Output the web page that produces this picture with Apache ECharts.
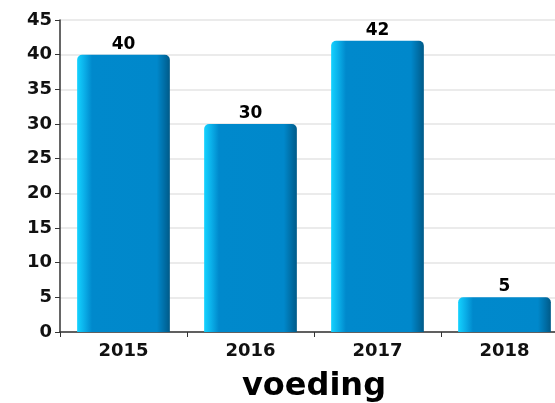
<!DOCTYPE html>
<html>
<head>
<meta charset="utf-8">
<script src="https://cdn.jsdelivr.net/npm/echarts@6/dist/echarts.min.js"></script>
<style>
  html, body { margin: 0; padding: 0; background: #fff; overflow: hidden; }
  #chart { width: 570px; height: 403px; }
</style>
</head>
<body>
<div id="chart"></div>
<script>
  var years = ['2015', '2016', '2017', '2018'];
  var values = [40, 30, 42, 5];
  var axisTitle = 'voeding';

  var chart = echarts.init(document.getElementById('chart'));

  // fake 3d look: bright left edge, dark right edge
  var barColor = new echarts.graphic.LinearGradient(0, 0, 1, 0, [
    { offset: 0, color: '#14d2ff' },
    { offset: 0.08, color: '#0aaee8' },
    { offset: 0.16, color: '#0089cc' },
    { offset: 0.86, color: '#0088cb' },
    { offset: 0.94, color: '#006ea6' },
    { offset: 1, color: '#005a88' }
  ]);

  chart.setOption({
    animation: false,
    textStyle: { fontFamily: 'DejaVu Sans' },
    grid: { left: 60, right: 2, top: 20, bottom: 71, outerBoundsMode: 'none' },
    xAxis: {
      type: 'category',
      data: years,
      name: axisTitle,
      nameLocation: 'middle',
      nameGap: 39,
      nameTextStyle: { fontSize: 32, fontWeight: 'bold', color: '#000' },
      axisLine: { lineStyle: { color: '#333', width: 1.5 } },
      axisTick: { show: true, length: 5, lineStyle: { color: '#333' } },
      axisLabel: { fontSize: 18, fontWeight: 'bold', color: '#111', margin: 10 }
    },
    yAxis: {
      type: 'value',
      min: 0,
      max: 45,
      interval: 5,
      axisLine: { show: true, lineStyle: { color: '#333', width: 1.5 } },
      axisTick: { show: true, length: 5, lineStyle: { color: '#333' } },
      axisLabel: { fontSize: 18, fontWeight: 'bold', color: '#111', margin: 8 },
      splitLine: { lineStyle: { color: '#e4e4e4', width: 1.5 } }
    },
    series: [{
      type: 'bar',
      data: values,
      barWidth: '73%',
      itemStyle: { color: barColor, borderRadius: [5, 5, 0, 0] },
      label: {
        show: true,
        position: 'top',
        distance: 2,
        fontSize: 17,
        fontWeight: 'bold',
        color: '#000'
      }
    }]
  });
</script>
</body>
</html>
